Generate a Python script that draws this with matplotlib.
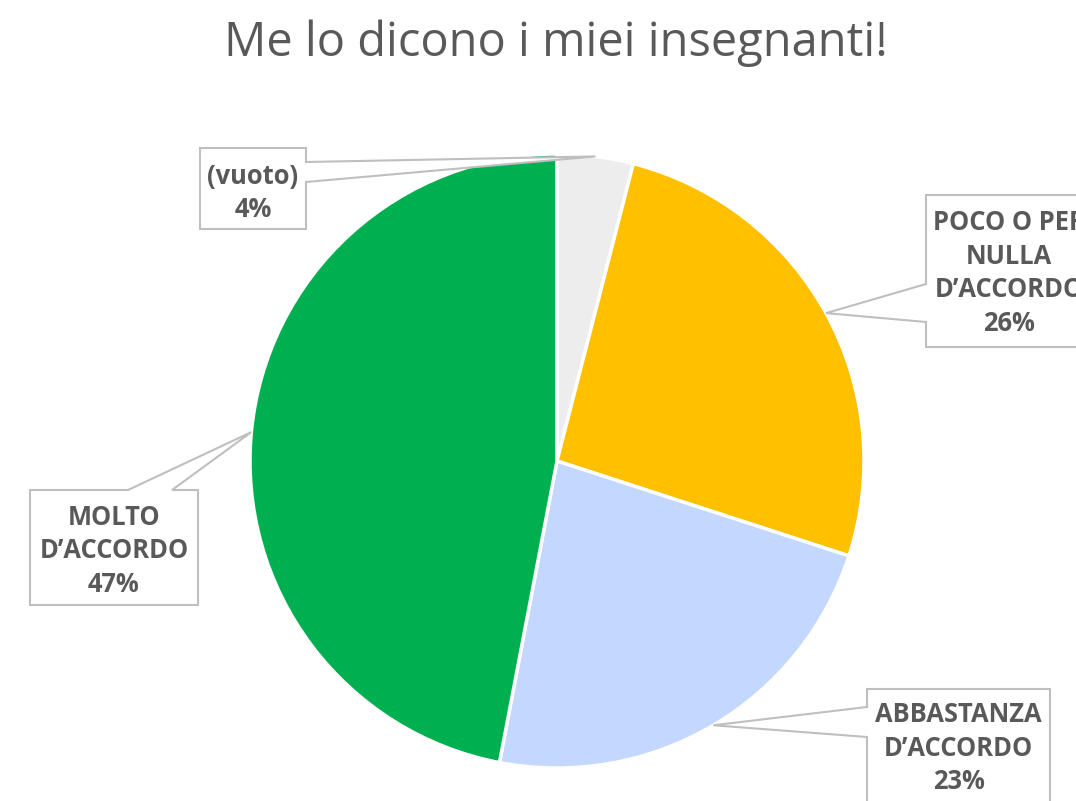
import matplotlib
matplotlib.use("Agg")
import matplotlib.pyplot as plt
from matplotlib.patches import Polygon
import numpy as np

W, H = 1076, 801

labels = ["(vuoto)", "POCO O PER\nNULLA\nD’ACCORDO", "ABBASTANZA\nD’ACCORDO", "MOLTO\nD’ACCORDO"]
values = [4, 26, 23, 47]
colors = ["#EDEDED", "#FFC000", "#C4D7FE", "#00B050"]

# callout boxes in pixel coords: (left, top, right, bottom), side of the pointer, pointer base offsets
boxes = [
    ((200, 148, 306, 229), "right", (162, 182)),
    ((926, 195, 1092, 347), "left", (284, 322)),
    ((867, 689, 1050, 830), "left", (707, 737)),
    ((30, 490, 198, 605), "top", (128, 172)),
]
text_y = [193, 273, 748, 551]

plt.rcParams['font.family'] = ['Open Sans', 'DejaVu Sans']

fig = plt.figure(figsize=(W / 100, H / 100), dpi=100)
ax = fig.add_axes([0, 0, 1, 1])
ax.axis('off')

cx, cy, r = 557, 461, 307
wedges, _ = ax.pie(values, colors=colors, startangle=-90, counterclock=True,
                   center=(cx, cy), radius=r,
                   wedgeprops=dict(edgecolor='white', linewidth=2.5))
ax.set_xlim(0, W)
ax.set_ylim(H, 0)
ax.set_aspect('equal')

edge = "#BFBFBF"
txt = "#595959"
for w, lab, val, (box, side, base), ty in zip(wedges, labels, values, boxes, text_y):
    mid = np.deg2rad((w.theta1 + w.theta2) / 2)
    tip = (cx + r * np.cos(mid), cy + r * np.sin(mid))
    l, t, rr, b = box
    if side == "right":
        pts = [(l, t), (rr, t), (rr, base[0]), tip, (rr, base[1]), (rr, b), (l, b)]
    elif side == "left":
        pts = [(l, t), (rr, t), (rr, b), (l, b), (l, base[1]), tip, (l, base[0])]
    else:
        pts = [(l, t), (base[0], t), tip, (base[1], t), (rr, t), (rr, b), (l, b)]
    ax.add_patch(Polygon(pts, closed=True, facecolor='white', edgecolor=edge,
                         linewidth=1.5, zorder=5))
    ax.text((l + rr) / 2, ty, f"{lab}\n{val}%", ha='center', va='center',
            fontsize=18.4, fontweight='bold', color=txt, linespacing=1.33, zorder=6)

ax.text(556, 43, "Me lo dicono i miei insegnanti!", ha='center', va='center',
        fontsize=33.8, color=txt)

fig.savefig("out.png", dpi=100)
